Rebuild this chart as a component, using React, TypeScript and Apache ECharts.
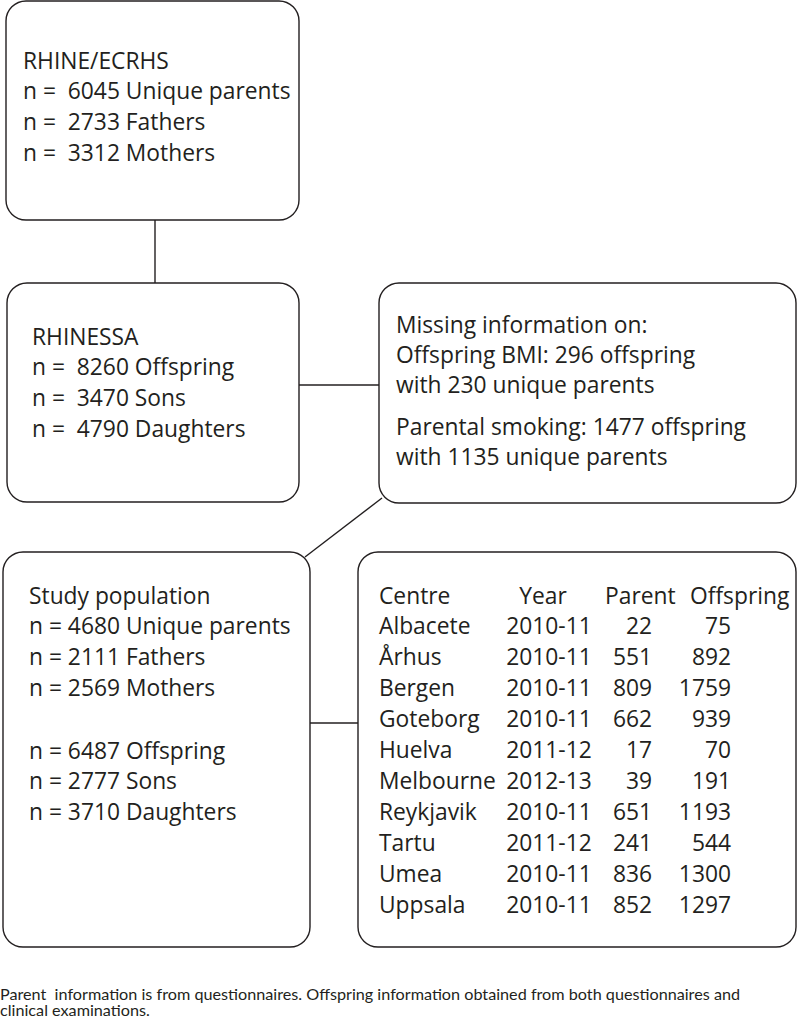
import React, { useEffect, useRef } from "react";
import * as echarts from "echarts";

const FONT = "'Open Sans', Lato, sans-serif";
const INK = "#231f20";

const box1Lines = ["RHINE/ECRHS", "n =  6045 Unique parents", "n =  2733 Fathers", "n =  3312 Mothers"];
const box2Lines = ["RHINESSA", "n =  8260 Offspring", "n =  3470 Sons", "n =  4790 Daughters"];
const box3LinesA = ["Missing information on:", "Offspring BMI: 296 offspring", "with 230 unique parents"];
const box3LinesB = ["Parental smoking: 1477 offspring", "with 1135 unique parents"];
const box4LinesA = ["Study population", "n = 4680 Unique parents", "n = 2111 Fathers", "n = 2569 Mothers"];
const box4LinesB = ["n = 6487 Offspring", "n = 2777 Sons", "n = 3710 Daughters"];

const tableHeader = ["Centre", "Year", "Parent", "Offspring"];
const centres = ["Albacete", "Århus", "Bergen", "Goteborg", "Huelva", "Melbourne", "Reykjavik", "Tartu", "Umea", "Uppsala"];
const years = ["2010-11", "2010-11", "2010-11", "2010-11", "2011-12", "2012-13", "2010-11", "2011-12", "2010-11", "2010-11"];
const parents = [22, 551, 809, 662, 17, 39, 651, 241, 836, 852];
const offspring = [75, 892, 1759, 939, 70, 191, 1193, 544, 1300, 1297];

const footnote = [
  "Parent  information is from questionnaires. Offspring information obtained from both questionnaires and",
  "clinical examinations.",
];

const FS = 22.8;

function txt(text: string, x: number, baseline: number, align: string = "left", fs: number = FS, font: string = FONT, lh?: number) {
  return {
    type: "text",
    x,
    y: baseline - fs * 0.35,
    silent: true,
    style: {
      text,
      fill: INK,
      font: `${fs}px ${font}`,
      align,
      verticalAlign: "middle",
      lineHeight: lh ?? fs * 1.2,
    },
  };
}

function lines(arr: string[], x: number, firstBaseline: number, step: number) {
  return arr.map((t, i) => txt(t, x, firstBaseline + i * step, "left", FS, FONT, 27));
}

function box(x: number, y: number, w: number, h: number) {
  return {
    type: "rect",
    shape: { x, y, width: w, height: h, r: 20 },
    style: { fill: "#fff", stroke: INK, lineWidth: 1.4 },
    silent: true,
  };
}

function seg(x1: number, y1: number, x2: number, y2: number) {
  return {
    type: "line",
    shape: { x1, y1, x2, y2 },
    style: { stroke: INK, lineWidth: 1.4 },
    silent: true,
  };
}

export default function App() {
  const ref = useRef<HTMLDivElement>(null);
  useEffect(() => {
    document.body.style.margin = "0";
    const chart = echarts.init(ref.current!, null, { renderer: "svg" });
    const elements: any[] = [];
    // connectors
    elements.push(seg(155, 220, 155, 283));
    elements.push(seg(299, 385, 379, 385));
    elements.push(seg(382, 498, 305, 557));
    elements.push(seg(310, 723, 358, 723));
    // boxes
    elements.push(box(6, 1, 293, 219));
    elements.push(box(7, 283, 292, 219));
    elements.push(box(379, 283, 417, 220));
    elements.push(box(3, 552, 307, 395));
    elements.push(box(358, 552, 438, 395));
    // texts
    elements.push(...lines(box1Lines, 23, 68, 30.8));
    elements.push(...lines(box2Lines, 32, 344, 30.8));
    elements.push(...lines(box3LinesA, 396, 332, 30));
    elements.push(...lines(box3LinesB, 396, 434, 30));
    elements.push(...lines(box4LinesA, 29, 603, 30.8));
    elements.push(...lines(box4LinesB, 29, 758, 30.5));
    // table
    const hb = 603;
    const step = 30.9;
    elements.push(txt(tableHeader[0], 379, hb, "left", FS, FONT, 27));
    elements.push(txt(tableHeader[1], 543, hb, "center", FS, FONT, 27));
    elements.push(txt(tableHeader[2], 605, hb, "left", FS, FONT, 27));
    elements.push(txt(tableHeader[3], 690, hb, "left", FS, FONT, 27));
    centres.forEach((c, i) => {
      const b = hb + (i + 1) * step;
      elements.push(txt(c, 379, b, "left", FS, FONT, 27));
      elements.push(txt(years[i], 549, b, "center", FS, FONT, 27));
      elements.push(txt(String(parents[i]), 652, b, "right", FS, FONT, 27));
      elements.push(txt(String(offspring[i]), 731, b, "right", FS, FONT, 27));
    });
    // footnote (one text block, two lines)
    const ffs = 16.2;
    elements.push({
      type: "text",
      x: 0,
      y: 1007.5 - ffs * 0.35,
      silent: true,
      style: {
        text: footnote.join("\n"),
        fill: INK,
        font: `${ffs}px Lato, sans-serif`,
        align: "left",
        verticalAlign: "middle",
        lineHeight: 16,
      },
    });
    chart.setOption({
      animation: false,
      backgroundColor: "#ffffff",
      graphic: { elements },
    });
    return () => chart.dispose();
  }, []);
  return <div ref={ref} style={{ position: "absolute", left: 0, top: 0, width: 797, height: 1020 }} />;
}
